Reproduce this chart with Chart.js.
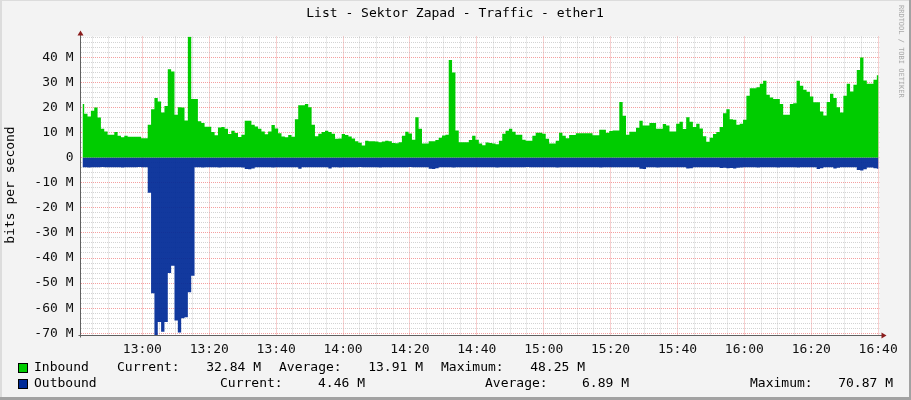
<!DOCTYPE html>
<html>
<head>
<meta charset="utf-8">
<title>List - Sektor Zapad - Traffic - ether1</title>
<script src="https://cdn.jsdelivr.net/npm/chart.js@4/dist/chart.umd.min.js"></script>
<style>
  html, body { margin: 0; padding: 0; background: #f3f3f3; overflow: hidden; }
  canvas { display: block; }
</style>
</head>
<body>
<canvas id="traffic" width="911" height="400"></canvas>
<script>
// samples are 1 minute apart, first one at 12:42:06 (minutes after 12:00)
const startMinute = 42.1;
const stepMinutes = 1;

// bits per second, in M
const inbound = [
  21.4, 17.5, 16.4, 18.7, 20.0, 16.0, 11.5, 10.4, 9.1, 9.1,
  10.2, 8.7, 8.1, 8.7, 8.3, 8.3, 8.3, 8.3, 7.7, 7.7,
  13.1, 19.3, 23.7, 22.4, 18.0, 20.6, 35.2, 34.3, 17.1, 20.1,
  20.0, 14.8, 48.25, 23.4, 23.4, 14.5, 13.8, 12.3, 12.3, 10.2,
  8.9, 12.0, 12.2, 11.5, 9.4, 10.7, 9.8, 8.2, 9.1, 14.7,
  14.7, 13.1, 12.4, 11.5, 10.4, 9.3, 10.4, 13.0, 11.6, 9.7,
  8.4, 8.1, 9.0, 8.3, 15.3, 20.9, 20.9, 21.4, 20.1, 13.1,
  8.5, 9.5, 10.2, 10.7, 10.2, 9.5, 7.5, 7.6, 9.4, 9.0,
  8.4, 7.6, 6.5, 5.9, 4.8, 6.7, 6.5, 6.5, 6.4, 6.1,
  6.4, 6.7, 6.5, 5.8, 5.7, 6.1, 8.7, 10.3, 9.6, 7.1,
  16.1, 11.5, 5.6, 5.6, 6.5, 6.5, 7.0, 7.9, 8.8, 9.1,
  38.9, 33.9, 10.8, 6.1, 6.1, 6.1, 7.0, 8.7, 7.1, 5.6,
  4.9, 6.0, 5.8, 5.6, 5.3, 6.7, 9.5, 10.7, 11.5, 10.3,
  9.1, 9.1, 7.1, 6.7, 6.7, 8.7, 9.9, 9.9, 9.5, 7.5,
  5.6, 5.6, 6.7, 9.9, 8.7, 7.7, 9.0, 9.0, 9.7, 9.7,
  9.7, 9.7, 9.7, 8.9, 8.9, 11.1, 11.1, 9.9, 10.6, 10.8,
  10.8, 22.2, 16.7, 9.1, 10.3, 10.3, 11.9, 14.7, 12.8, 12.8,
  13.8, 13.8, 11.5, 11.5, 13.4, 12.8, 10.4, 10.4, 13.5, 14.3,
  11.4, 16.1, 14.3, 12.2, 13.5, 11.6, 8.5, 6.3, 7.9, 9.4,
  10.2, 12.2, 17.7, 19.3, 15.3, 15.1, 13.1, 13.5, 15.1, 24.6,
  27.6, 27.6, 28.0, 29.4, 30.6, 25.0, 23.9, 23.4, 23.4, 21.4,
  17.1, 17.1, 21.4, 21.7, 30.6, 28.6, 27.0, 26.2, 24.3, 22.1,
  22.1, 18.4, 16.8, 22.2, 25.4, 23.7, 20.1, 18.0, 24.6, 29.4,
  26.3, 29.0, 34.9, 39.9, 30.7, 29.4, 29.4, 31.0, 32.8
];

// drawn below zero
const outbound = [
  -3.8, -3.8, -3.9, -3.8, -3.8, -3.8, -3.7, -3.8, -3.8, -3.8,
  -3.8, -3.8, -3.9, -3.8, -3.8, -3.8, -3.8, -3.7, -3.8, -3.8,
  -14.0, -54.0, -70.87, -65.5, -69.4, -65.5, -46.0, -43.1, -64.9, -69.7,
  -64.0, -63.6, -53.6, -47.1, -3.8, -3.8, -3.9, -3.8, -3.8, -3.8,
  -3.8, -3.9, -3.8, -3.8, -3.8, -3.8, -3.8, -3.8, -3.9, -4.5,
  -4.6, -4.3, -3.8, -3.8, -3.8, -3.8, -3.8, -3.9, -3.8, -3.8,
  -3.8, -3.8, -3.8, -3.8, -3.8, -4.4, -3.8, -3.8, -3.8, -3.8,
  -3.8, -3.8, -3.8, -3.8, -4.3, -3.8, -3.8, -3.9, -3.8, -3.8,
  -3.8, -3.8, -3.8, -3.7, -3.8, -3.8, -3.8, -3.8, -3.8, -3.9,
  -3.8, -3.8, -3.8, -3.8, -3.8, -3.8, -3.8, -3.8, -3.7, -3.8,
  -3.8, -3.8, -3.8, -3.8, -4.4, -4.5, -4.2, -3.8, -3.8, -3.8,
  -3.8, -3.9, -3.8, -3.8, -3.8, -3.8, -3.8, -3.8, -3.8, -3.8,
  -3.8, -3.8, -3.8, -3.8, -3.9, -3.8, -3.8, -3.8, -3.8, -3.8,
  -3.8, -3.8, -3.8, -3.7, -3.8, -3.8, -3.8, -3.8, -3.8, -3.8,
  -3.8, -3.8, -3.9, -3.8, -3.8, -3.8, -3.8, -3.8, -3.8, -3.8,
  -3.8, -3.8, -3.8, -3.8, -3.8, -3.9, -3.8, -3.8, -3.8, -3.8,
  -3.8, -3.8, -3.8, -3.8, -3.8, -3.8, -3.8, -4.4, -4.5, -3.8,
  -3.8, -3.8, -3.9, -3.8, -3.8, -3.8, -3.8, -3.8, -3.8, -3.8,
  -3.8, -4.3, -4.2, -3.8, -3.8, -3.8, -3.8, -3.8, -3.8, -3.8,
  -3.8, -4.1, -4.0, -4.2, -4.1, -4.3, -4.0, -3.9, -3.8, -3.8,
  -3.8, -3.8, -3.9, -3.8, -3.8, -3.8, -3.8, -3.8, -3.9, -3.8,
  -3.8, -3.8, -3.8, -3.8, -3.9, -3.8, -3.8, -3.8, -3.8, -3.8,
  -4.5, -4.2, -3.8, -3.8, -3.8, -4.3, -4.0, -3.8, -3.8, -3.8,
  -3.8, -3.8, -4.9, -5.1, -4.6, -3.9, -3.9, -4.2, -4.46
];

const seriesNames = ['Inbound', 'Outbound'];
const seriesColors = ['#00cc00', '#002a97'];
const statLabels = ['Current:', 'Average:', 'Maximum:'];
const inboundStats = ['32.84 M', '13.91 M', '48.25 M'];
const outboundStats = ['4.46 M', '6.89 M', '70.87 M'];

const titleText = 'List - Sektor Zapad - Traffic - ether1';
const yTitle = 'bits per second';
const FONT = 'DejaVu Sans Mono';

function toPoints(values) {
    return values.map((v, i) => ({ x: startMinute + i * stepMinutes, y: v }));
}

function clock(m) {
    const h = 12 + Math.floor(m / 60);
    const mm = m % 60;
    return h + ':' + (mm < 10 ? '0' : '') + mm;
}

function range(from, to, step) {
    const out = [];
    for (let v = from; v <= to; v += step) out.push({ value: v });
    return out;
}

const rrdFrame = {
    id: 'rrdFrame',
    beforeDraw(chart) {
        const ctx = chart.ctx;
        const a = chart.chartArea;
        ctx.save();
        ctx.fillStyle = '#f3f3f3';
        ctx.fillRect(0, 0, chart.width, chart.height);
        ctx.fillStyle = '#dcdcdc';
        ctx.fillRect(0, 0, chart.width, 1);
        ctx.fillRect(0, 0, 2, chart.height);
        ctx.fillStyle = '#a2a2a2';
        ctx.fillRect(0, chart.height - 3, chart.width, 3);
        ctx.fillRect(chart.width - 2, 0, 2, chart.height);
        ctx.fillStyle = '#ffffff';
        ctx.fillRect(a.left, a.top, a.right - a.left, a.bottom - a.top);
        ctx.restore();
    },
    afterDraw(chart) {
        const ctx = chart.ctx;
        const a = chart.chartArea;
        ctx.save();

        // axes with arrows
        ctx.strokeStyle = '#606060';
        ctx.lineWidth = 1;
        ctx.beginPath();
        ctx.moveTo(a.left, a.bottom + 2);
        ctx.lineTo(a.left, a.top - 3);
        ctx.moveTo(a.left - 2, a.bottom);
        ctx.lineTo(a.right + 4, a.bottom);
        ctx.stroke();
        ctx.fillStyle = '#8b1c1c';
        ctx.beginPath();
        ctx.moveTo(a.left - 3, a.top - 1);
        ctx.lineTo(a.left + 3, a.top - 1);
        ctx.lineTo(a.left, a.top - 6);
        ctx.closePath();
        ctx.fill();
        ctx.beginPath();
        ctx.moveTo(a.right + 2, a.bottom - 3);
        ctx.lineTo(a.right + 2, a.bottom + 3);
        ctx.lineTo(a.right + 7, a.bottom);
        ctx.closePath();
        ctx.fill();

        // title
        ctx.fillStyle = '#000';
        ctx.font = '13px "' + FONT + '"';
        ctx.textBaseline = 'middle';
        ctx.textAlign = 'center';
        ctx.fillText(titleText, 455, 14);

        // vertical axis title
        ctx.save();
        ctx.translate(11, 185);
        ctx.rotate(-Math.PI / 2);
        ctx.fillText(yTitle, 0, 0);
        ctx.restore();

        // watermark
        ctx.save();
        ctx.translate(901, 5);
        ctx.rotate(Math.PI / 2);
        ctx.fillStyle = '#a8a8a8';
        ctx.font = '7px "' + FONT + '"';
        ctx.textAlign = 'left';
        ctx.fillText('RRDTOOL / TOBI OETIKER', 0, 0);
        ctx.restore();

        // legend
        ctx.textAlign = 'left';
        ctx.font = '13px "' + FONT + '"';
        const rows = [
            { y: 368, stats: inboundStats, labelX: [117, 279, 441], valueEnd: [261, 423, 585] },
            { y: 384, stats: outboundStats, labelX: [220, 485, 750], valueEnd: [365, 629, 893] }
        ];
        rows.forEach((row, r) => {
            ctx.fillStyle = seriesColors[r];
            ctx.fillRect(18, row.y - 5, 10, 10);
            ctx.strokeStyle = '#000';
            ctx.strokeRect(18.5, row.y - 4.5, 9, 9);
            ctx.fillStyle = '#000';
            ctx.textAlign = 'left';
            ctx.fillText(seriesNames[r], 34, row.y);
            statLabels.forEach((label, k) => {
                ctx.textAlign = 'left';
                ctx.fillText(label, row.labelX[k], row.y);
                ctx.textAlign = 'right';
                ctx.fillText(row.stats[k], row.valueEnd[k], row.y);
            });
        });
        ctx.restore();
    }
};

const gridColor = (major) => major ? 'rgba(240, 120, 120, 0.7)' : 'rgba(175, 175, 175, 0.55)';

const chartConfig = {
    type: 'line',
    data: {
        datasets: [{
            label: seriesNames[0],
            data: toPoints(inbound),
            backgroundColor: seriesColors[0],
            borderWidth: 0,
            fill: 'origin',
            stepped: 'middle',
            pointRadius: 0
        }, {
            label: seriesNames[1],
            data: toPoints(outbound),
            backgroundColor: 'rgba(0, 42, 151, 0.93)',
            borderWidth: 0,
            fill: 'origin',
            stepped: 'middle',
            pointRadius: 0
        }]
    },
    options: {
        responsive: false,
        animation: false,
        devicePixelRatio: 1,
        layout: { padding: { top: 36.5, left: 0, right: 31.5, bottom: 44.5 } },
        plugins: {
            legend: { display: false },
            tooltip: { enabled: false },
            title: { display: false }
        },
        scales: {
            x: {
                type: 'linear',
                min: 41.5,
                max: 280.4,
                afterBuildTicks: (axis) => { axis.ticks = range(45, 280, 5); },
                afterFit: (scale) => { scale.height = 20; },
                border: { display: false, dash: [1, 1] },
                grid: {
                    drawTicks: false,
                    color: (c) => gridColor(c.tick && c.tick.value % 20 === 0)
                },
                ticks: {
                    autoSkip: false,
                    maxRotation: 0,
                    padding: 6,
                    color: '#111',
                    font: { family: FONT, size: 13 },
                    callback: (v) => v % 20 === 0 ? clock(v) : ''
                }
            },
            y: {
                min: -70.87,
                max: 48.25,
                afterBuildTicks: (axis) => { axis.ticks = range(-70, 48, 2); },
                afterFit: (scale) => { scale.width = 80.5; },
                border: { display: false, dash: [1, 1] },
                grid: {
                    drawTicks: false,
                    color: (c) => gridColor(c.tick && c.tick.value % 10 === 0)
                },
                ticks: {
                    autoSkip: false,
                    padding: 7,
                    color: '#111',
                    font: { family: FONT, size: 13 },
                    callback: (v) => v % 10 !== 0 ? '' : (v === 0 ? '0' : v + ' M')
                }
            }
        }
    },
    plugins: [rrdFrame]
};

const trafficChart = new Chart(document.getElementById('traffic'), chartConfig);
</script>
</body>
</html>
